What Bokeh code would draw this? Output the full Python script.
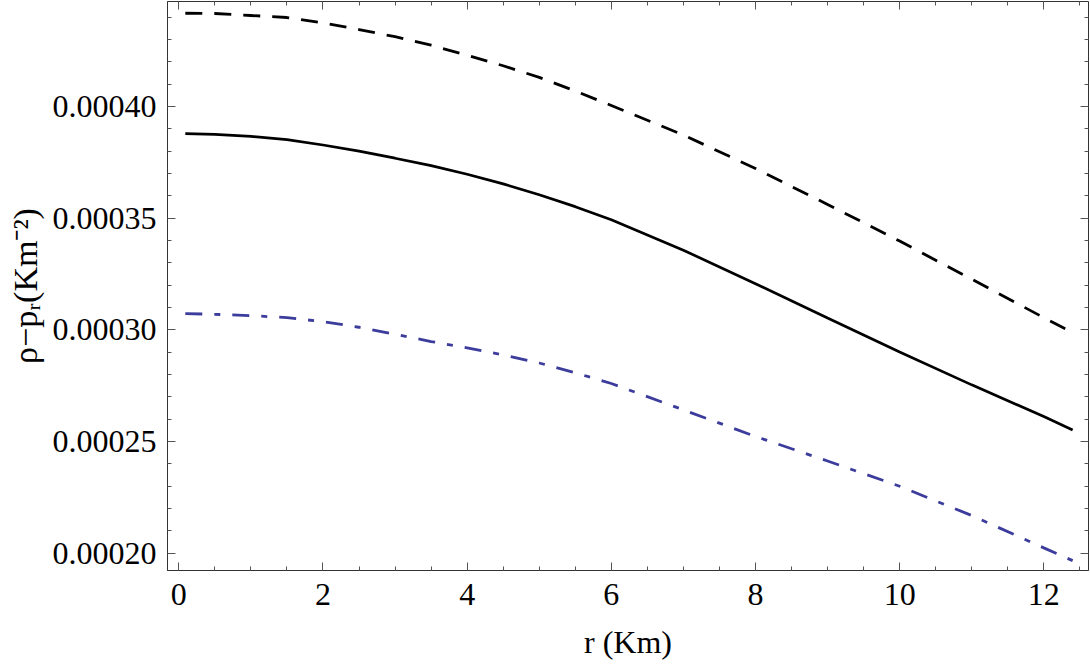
from bokeh.plotting import figure
from bokeh.models import Range1d, LinearAxis, FixedTicker, PrintfTickFormatter
from bokeh.embed import file_html
from bokeh.resources import INLINE

# ---- data ----
r_vals = [0.09, 0.5, 1, 1.5, 2, 2.5, 3, 3.5, 4, 4.5, 5, 5.5, 6, 7, 8, 9, 10, 11, 12, 12.4]
dashed_vals = [0.0004418, 0.0004417, 0.0004408, 0.0004399, 0.0004375, 0.0004345, 0.0004313,
               0.0004275, 0.0004230, 0.0004183, 0.0004131, 0.0004070, 0.0004005, 0.0003873,
               0.0003723, 0.0003562, 0.0003398, 0.0003227, 0.0003055, 0.0002988]
solid_vals = [0.0003879, 0.0003876, 0.0003867, 0.0003852, 0.0003828, 0.0003801, 0.0003769,
              0.0003736, 0.0003697, 0.0003654, 0.0003605, 0.0003552, 0.0003493, 0.0003357,
              0.0003207, 0.0003053, 0.0002901, 0.0002754, 0.0002612, 0.0002552]
dashdot_vals = [0.0003073, 0.0003070, 0.0003064, 0.0003055, 0.0003037, 0.0003012, 0.0002981,
                0.0002948, 0.0002920, 0.0002888, 0.0002852, 0.0002808, 0.0002760, 0.0002642,
                0.0002523, 0.0002413, 0.0002300, 0.0002169, 0.0002024, 0.0001967]

x_major_ticks = [0, 2, 4, 6, 8, 10, 12]
x_minor_ticks = [0.5, 1, 1.5, 2.5, 3, 3.5, 4.5, 5, 5.5, 6.5, 7, 7.5, 8.5, 9, 9.5, 10.5, 11, 11.5, 12.5]
y_major_ticks = [0.00020, 0.00025, 0.00030, 0.00035, 0.00040]
y_minor_ticks = [0.00021, 0.00022, 0.00023, 0.00024, 0.00026, 0.00027, 0.00028, 0.00029,
                 0.00031, 0.00032, 0.00033, 0.00034, 0.00036, 0.00037, 0.00038, 0.00039,
                 0.00041, 0.00042, 0.00043, 0.00044]

x_label = "r (Km)"
y_label = "ρ−pᵣ(Km⁻²)"

FONT = "Liberation Serif"
W, H = 1090, 670
AXIS_COLOR = "#333333"
TICK_COLOR = "#555555"

p = figure(width=W, height=H, output_backend="svg", toolbar_location=None,
           x_range=Range1d(-0.157, 12.62), y_range=Range1d(0.00019227, 0.00044707),
           min_border_left=167, min_border_right=2, min_border_top=1, min_border_bottom=100)
p.grid.visible = False
p.background_fill_color = "white"
p.border_fill_color = "white"
p.outline_line_color = AXIS_COLOR
p.outline_line_width = 1

xticker = FixedTicker(ticks=x_major_ticks, minor_ticks=x_minor_ticks)
yticker = FixedTicker(ticks=y_major_ticks, minor_ticks=y_minor_ticks)


def style_axis(ax):
    ax.axis_line_color = AXIS_COLOR
    ax.axis_line_width = 1
    ax.major_tick_in = 8
    ax.major_tick_out = 0
    ax.minor_tick_in = 4
    ax.minor_tick_out = 0
    ax.major_tick_line_color = TICK_COLOR
    ax.minor_tick_line_color = TICK_COLOR
    ax.major_label_text_font = FONT
    ax.major_label_text_font_size = "32px"
    ax.major_label_text_color = "black"


xa = p.xaxis[0]
xa.ticker = xticker
style_axis(xa)
xa.major_label_standoff = 13
xa.axis_label = x_label
xa.axis_label_text_font = FONT
xa.axis_label_text_font_size = "32px"
xa.axis_label_text_font_style = "normal"
xa.axis_label_text_color = "black"
xa.axis_label_standoff = 16

ya = p.yaxis[0]
ya.ticker = yticker
ya.formatter = PrintfTickFormatter(format="%.5f")
style_axis(ya)
ya.major_label_standoff = 11
ya.axis_label = y_label
ya.axis_label_text_font = FONT
ya.axis_label_text_font_size = "34px"
ya.axis_label_text_font_style = "normal"
ya.axis_label_text_color = "black"
ya.axis_label_standoff = 6


# mirrored ticks on top and right (no labels: the tick positions are given as minor ticks only)
def mirror_axis(ticks, length):
    ax = LinearAxis(ticker=FixedTicker(ticks=[], minor_ticks=ticks))
    ax.axis_line_color = None
    ax.major_tick_line_color = None
    ax.minor_tick_in = length
    ax.minor_tick_out = 0
    ax.minor_tick_line_color = TICK_COLOR
    ax.major_label_standoff = 0
    return ax


p.add_layout(mirror_axis(x_major_ticks, 8), "above")
p.add_layout(mirror_axis(x_minor_ticks, 4), "above")
p.add_layout(mirror_axis(y_major_ticks, 8), "right")
p.add_layout(mirror_axis(y_minor_ticks, 4), "right")

# ---- curves ----
p.line(r_vals, dashed_vals, line_color="black", line_width=2.8, line_dash="17 12")
p.line(r_vals, solid_vals, line_color="black", line_width=2.7)
p.line(r_vals, dashdot_vals, line_color="#3c3c9c", line_width=2.8, line_dash="17 12 6 12")

open("out.html", "w").write(file_html(p, INLINE))
